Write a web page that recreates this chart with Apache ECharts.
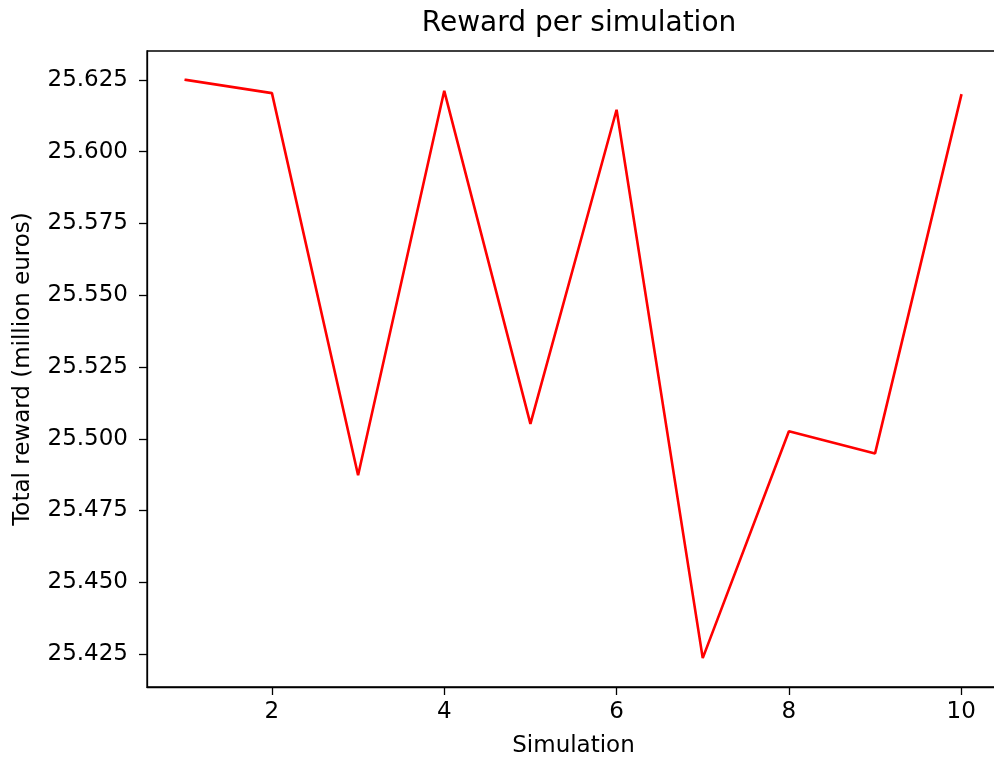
<!DOCTYPE html>
<html>
<head>
<meta charset="utf-8">
<script src="https://cdn.jsdelivr.net/npm/echarts@6/dist/echarts.min.js"></script>
<style>
  html, body { margin: 0; padding: 0; background: #fff; overflow: hidden; }
  #chart { width: 994px; height: 763px; }
</style>
</head>
<body>
<div id="chart"></div>
<script>
// Simulation index and total reward (million euros)
const simulations = [1, 2, 3, 4, 5, 6, 7, 8, 9, 10];
const rewards = [25.625, 25.6204, 25.4873, 25.6212, 25.5052, 25.6146, 25.4236, 25.5026, 25.4949, 25.6196];
const xTicks = [2, 4, 6, 8, 10];
const yTicks = [25.425, 25.450, 25.475, 25.500, 25.525, 25.550, 25.575, 25.600, 25.625];

// 5% padding around the data range on both axes
const xPad = (Math.max(...simulations) - Math.min(...simulations)) * 0.05;
const yPad = (Math.max(...rewards) - Math.min(...rewards)) * 0.05;

const font = 'DejaVu Sans';
const chart = echarts.init(document.getElementById('chart'), null, { renderer: 'canvas' });

chart.setOption({
  animation: false,
  backgroundColor: '#ffffff',
  title: {
    text: 'Reward per simulation',
    left: 574,
    top: 5,
    textAlign: 'center',
    textStyle: { fontFamily: font, fontSize: 28, fontWeight: 'normal', color: '#000' }
  },
  // the plot frame runs slightly past the right edge of the canvas
  grid: {
    left: 147, top: 51, width: 853, height: 636,
    outerBoundsMode: 'none',
    containLabel: false,
    show: true, borderColor: '#000', borderWidth: 1.3, backgroundColor: 'transparent'
  },
  xAxis: {
    type: 'value',
    min: Math.min(...simulations) - xPad,
    max: Math.max(...simulations) + xPad,
    name: 'Simulation',
    nameLocation: 'middle',
    nameGap: 48,
    nameTextStyle: { fontFamily: font, fontSize: 23, color: '#000' },
    splitLine: { show: false },
    axisLine: { show: true, onZero: false, lineStyle: { color: '#000', width: 1.3 } },
    axisTick: { show: true, customValues: xTicks, length: 8, lineStyle: { color: '#000', width: 1.3 } },
    axisLabel: {
      customValues: xTicks, margin: 14,
      fontFamily: font, fontSize: 23, color: '#000'
    }
  },
  yAxis: {
    type: 'value',
    min: Math.min(...rewards) - yPad,
    max: Math.max(...rewards) + yPad,
    name: 'Total reward (million euros)',
    nameLocation: 'middle',
    nameGap: 112,
    nameTextStyle: { fontFamily: font, fontSize: 23, color: '#000' },
    splitLine: { show: false },
    axisLine: { show: true, onZero: false, lineStyle: { color: '#000', width: 1.3 } },
    axisTick: { show: true, customValues: yTicks, length: 8, lineStyle: { color: '#000', width: 1.3 } },
    axisLabel: {
      customValues: yTicks, margin: 19,
      formatter: v => v.toFixed(3),
      fontFamily: font, fontSize: 23, color: '#000'
    }
  },
  series: [{
    type: 'line',
    data: simulations.map((s, i) => [s, rewards[i]]),
    showSymbol: false,
    symbol: 'none',
    lineStyle: { color: '#ff0000', width: 2.6, cap: 'square' },
    itemStyle: { color: '#ff0000' }
  }]
});
</script>
</body>
</html>
